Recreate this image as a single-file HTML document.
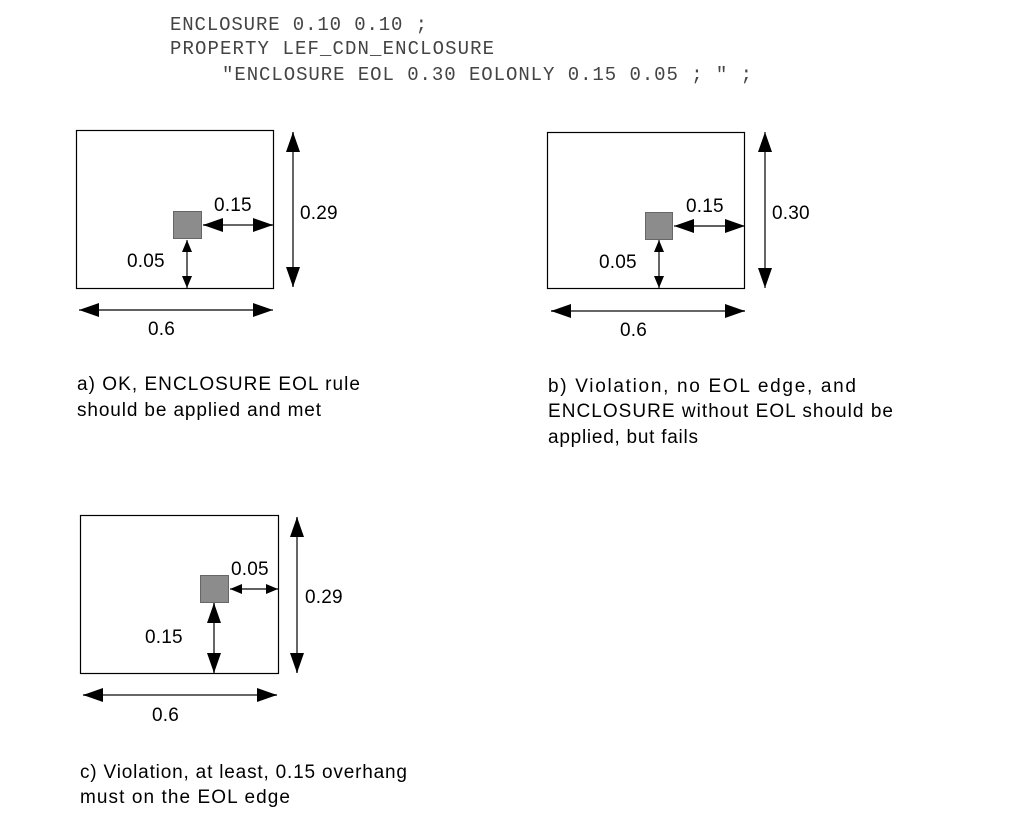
<!DOCTYPE html>
<html><head><meta charset="utf-8"><style>
html,body{margin:0;padding:0;background:#fff;}
svg{display:block;}
.m{font-family:"Liberation Mono",monospace;font-size:19px;fill:#444;}
.s{font-family:"Liberation Sans",sans-serif;font-size:19px;fill:#000;letter-spacing:0.2px;}
.c{font-family:"Liberation Sans",sans-serif;font-size:19px;fill:#000;}
</style></head><body>
<svg width="1013" height="831" viewBox="0 0 1013 831" xmlns="http://www.w3.org/2000/svg">
<defs>
<marker id="a" markerUnits="userSpaceOnUse" markerWidth="22" markerHeight="16" refX="20" refY="7" orient="auto-start-reverse"><path d="M0,0 L20,7 L0,14 Z" fill="#000"/></marker>
<marker id="b" markerUnits="userSpaceOnUse" markerWidth="14" markerHeight="12" refX="12" refY="5" orient="auto-start-reverse"><path d="M0,0 L12,5 L0,10 Z" fill="#000"/></marker>
</defs>
<text class="m" x="170" y="30" textLength="257" lengthAdjust="spacing">ENCLOSURE 0.10 0.10 ;</text>
<text class="m" x="170" y="54" textLength="324" lengthAdjust="spacing">PROPERTY LEF_CDN_ENCLOSURE</text>
<text class="m" x="222" y="80" textLength="530" lengthAdjust="spacing">"ENCLOSURE EOL 0.30 EOLONLY 0.15 0.05 ; " ;</text>

<g stroke="#000" stroke-width="1.2" fill="none">
<rect x="76.5" y="130.5" width="197" height="158"/>
<line x1="293" y1="132" x2="293" y2="287" marker-start="url(#a)" marker-end="url(#a)" stroke="#666" stroke-width="2"/>
<line x1="203" y1="225" x2="273" y2="225" marker-start="url(#a)" marker-end="url(#a)" stroke="#666" stroke-width="2"/>
<line x1="187" y1="240" x2="187" y2="288" marker-start="url(#b)" marker-end="url(#b)"/>
<line x1="79" y1="310" x2="273" y2="310" marker-start="url(#a)" marker-end="url(#a)"/>
<rect x="547.5" y="132.5" width="197" height="156"/>
<line x1="765" y1="132" x2="765" y2="288" marker-start="url(#a)" marker-end="url(#a)"/>
<line x1="674" y1="226" x2="745" y2="226" marker-start="url(#a)" marker-end="url(#a)"/>
<line x1="659" y1="240" x2="659" y2="288" marker-start="url(#b)" marker-end="url(#b)"/>
<line x1="551" y1="311" x2="745" y2="311" marker-start="url(#a)" marker-end="url(#a)" stroke="#666" stroke-width="2"/>
<rect x="80.5" y="515.5" width="198" height="158"/>
<line x1="297" y1="517" x2="297" y2="673" marker-start="url(#a)" marker-end="url(#a)" stroke="#666" stroke-width="2"/>
<line x1="230" y1="589" x2="278" y2="589" marker-start="url(#b)" marker-end="url(#b)"/>
<line x1="214" y1="603" x2="214" y2="673" marker-start="url(#a)" marker-end="url(#a)" stroke="#666" stroke-width="2"/>
<line x1="83" y1="695" x2="277" y2="695" marker-start="url(#a)" marker-end="url(#a)" stroke="#666" stroke-width="2"/>
</g>
<g fill="#8c8c8c" stroke="#666" stroke-width="1">
<rect x="173.5" y="211.5" width="28" height="27"/>
<rect x="645.5" y="212.5" width="27" height="27"/>
<rect x="200.5" y="575.5" width="28" height="27"/>
</g>

<text class="s" x="214" y="211">0.15</text>
<text class="s" x="300" y="219">0.29</text>
<text class="s" x="127" y="267">0.05</text>
<text class="s" x="148" y="335">0.6</text>
<text class="c" x="77" y="390" textLength="283" lengthAdjust="spacing">a) OK, ENCLOSURE EOL rule</text>
<text class="c" x="77" y="416" textLength="244" lengthAdjust="spacing">should be applied and met</text>

<text class="s" x="686" y="212">0.15</text>
<text class="s" x="772" y="219">0.30</text>
<text class="s" x="599" y="268">0.05</text>
<text class="s" x="620" y="336">0.6</text>
<text class="c" x="548" y="392" textLength="308" lengthAdjust="spacing">b) Violation, no EOL edge, and</text>
<text class="c" x="548" y="417" textLength="345" lengthAdjust="spacing">ENCLOSURE without EOL should be</text>
<text class="c" x="548" y="443" textLength="150" lengthAdjust="spacing">applied, but fails</text>

<text class="s" x="231" y="575">0.05</text>
<text class="s" x="305" y="603">0.29</text>
<text class="s" x="145" y="643">0.15</text>
<text class="s" x="152" y="721">0.6</text>
<text class="c" x="80" y="778" textLength="327" lengthAdjust="spacing">c) Violation, at least, 0.15 overhang</text>
<text class="c" x="80" y="803" textLength="210" lengthAdjust="spacing">must on the EOL edge</text>
</svg>
</body></html>
